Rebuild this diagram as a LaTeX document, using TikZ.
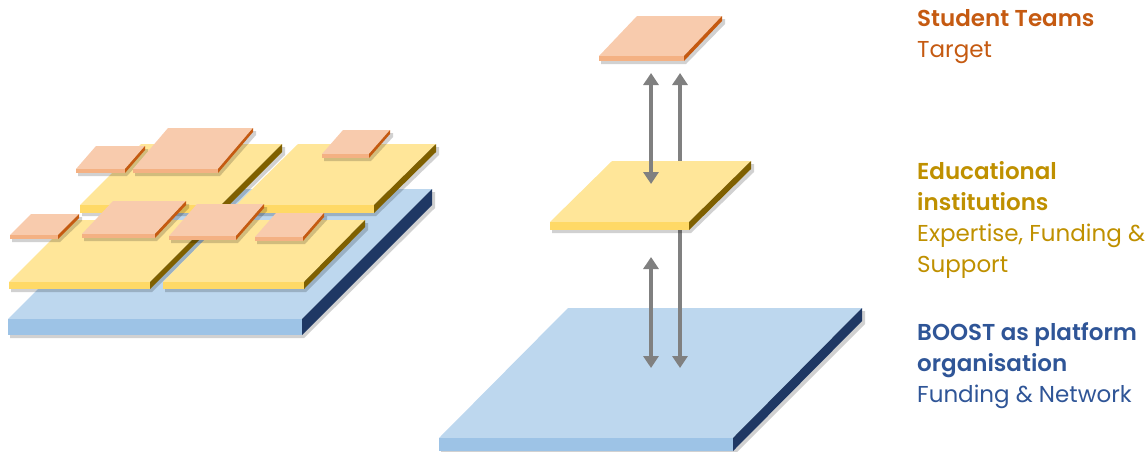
\documentclass[tikz,border=0pt]{standalone}
\usepackage{fontspec}
\setmainfont{Poppins}[BoldFont={Poppins SemiBold}]
\usepackage{xcolor}
\usepackage{tikz}
\usetikzlibrary{arrows.meta}

\definecolor{pinktop}{HTML}{F8CBAD}
\definecolor{pinkfront}{HTML}{F4B183}
\definecolor{pinkside}{HTML}{C55A11}
\definecolor{yeltop}{HTML}{FFE699}
\definecolor{yelfront}{HTML}{FFD966}
\definecolor{yelside}{HTML}{7F6000}
\definecolor{blutop}{HTML}{BDD7EE}
\definecolor{blufront}{HTML}{9DC3E6}
\definecolor{bluside}{HTML}{1F3864}
\definecolor{studtext}{HTML}{C55A11}
\definecolor{edutext}{HTML}{BF9000}
\definecolor{boosttext}{HTML}{2F5597}

% slab: colour prefix, front-left x, front-left y, width, depth dx, depth dy, thickness
\newcommand{\slab}[7]{
  \fill[black, opacity=0.18] (#2+2,#3+3) -- (#2+#5+2,#3-#6+3) -- (#2+#4+#5+3,#3-#6+3) -- (#2+#4+#5+3,#3-#6+#7+3) -- (#2+#4+2,#3+#7+3) -- (#2+2,#3+#7+3) -- cycle;
  \fill[#1top] (#2,#3) -- (#2+#5,#3-#6) -- (#2+#4+#5,#3-#6) -- (#2+#4,#3) -- cycle;
  \fill[#1front] (#2,#3) -- (#2+#4,#3) -- (#2+#4,#3+#7) -- (#2,#3+#7) -- cycle;
  \fill[#1side] (#2+#4,#3) -- (#2+#4+#5,#3-#6) -- (#2+#4+#5,#3-#6+#7) -- (#2+#4,#3+#7) -- cycle;
}

\tikzset{
  flow/.style={draw=gray, line width=3.2pt, {Triangle[width=15pt,length=12pt]}-{Triangle[width=15pt,length=12pt]}},
  legend/.style={anchor=base west, inner sep=0pt, align=left, font=\fontsize{23}{31}\selectfont}
}

\begin{document}
\begin{tikzpicture}[x=1pt, y=-1pt]
  \useasboundingbox (0,0) rectangle (1148,451);

  % Left stack: platform base
  \slab{blu}{8}{319}{294}{130}{130}{16}

  % Back row of institutions and their teams
  \slab{yel}{80}{205}{141}{61}{61}{8}
  \slab{yel}{236}{205}{138}{62}{61}{8}
  \slab{pink}{76}{169}{49}{20}{23}{4}
  \slab{pink}{133}{169}{85}{35}{41}{4}
  \slab{pink}{322}{154}{47}{21}{24}{4}

  % Front row of institutions and their teams
  \slab{yel}{9}{282}{141}{62}{62}{7}
  \slab{yel}{163}{282}{141}{61}{62}{7}
  \slab{pink}{10}{235}{48}{21}{21}{4}
  \slab{pink}{82}{234}{73}{31}{33}{4}
  \slab{pink}{169}{236}{67}{28}{32}{4}
  \slab{pink}{255}{237}{48}{21}{24}{4}

  % Right column: arrow ends
  \coordinate (team-l) at (651,73);
  \coordinate (team-r) at (680,73);
  \coordinate (inst-l) at (651,184);
  \coordinate (inst-lo) at (651,257);
  \coordinate (base-l) at (651,368);
  \coordinate (base-r) at (680,368);

  % Right column: layers
  \slab{blu}{439}{438}{294}{129}{130}{13}
  \draw[flow] (team-r) -- (base-r);
  \slab{yel}{550}{222}{139}{62}{61}{8}
  \slab{pink}{599}{56}{85}{38}{40}{5}
  \draw[flow] (team-l) -- (inst-l);
  \draw[flow] (inst-lo) -- (base-l);

  % Legend (anchored at the last line)
  \node[legend, text=studtext] (stud) at (917,57) {\textbf{Student Teams}\\Target};
  \node[legend, text=edutext] (edu) at (917,272) {\textbf{Educational}\\\textbf{institutions}\\Expertise, Funding \&\\Support};
  \node[legend, text=boosttext] (boost) at (917,402) {\textbf{BOOST as platform}\\\textbf{organisation}\\Funding \& Network};
\end{tikzpicture}
\end{document}
